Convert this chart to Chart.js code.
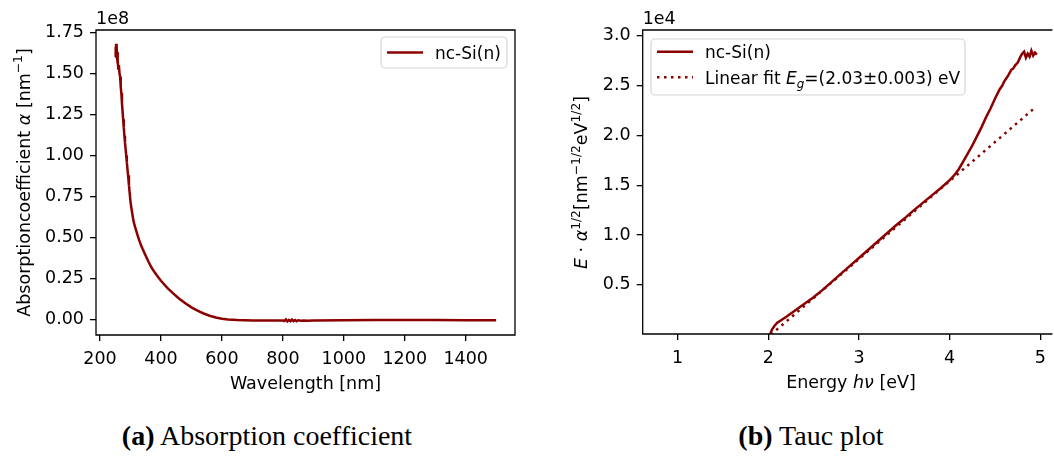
<!DOCTYPE html>
<html>
<head>
<meta charset="utf-8">
<script src="https://cdn.jsdelivr.net/npm/chart.js@4"></script>
<style>
  html, body { margin: 0; padding: 0; background: #fff; width: 1054px; height: 459px; overflow: hidden; }
  #wrapA { position: absolute; left: 0; top: 0; }
  #wrapB { position: absolute; left: 540px; top: 0; }
  .cap { position: absolute; top: 420px; font-family: "Liberation Serif", serif; font-size: 28px;
         white-space: nowrap; transform: translateX(-50%); color: #000; }
</style>
</head>
<body>
<div id="wrapA"><canvas id="absChart" width="530" height="400"></canvas></div>
<div id="wrapB"><canvas id="taucChart" width="514" height="400"></canvas></div>
<div class="cap" style="left:267px"><b>(a)</b> Absorption coefficient</div>
<div class="cap" style="left:811px"><b>(b)</b> Tauc plot</div>

<script>
// absorption spectrum, alpha in units of 1e8 nm^-1
const wavelength = [250, 251, 252, 253, 254, 255, 256, 257, 258, 259, 260, 262, 264, 266, 268, 270,
  272, 274, 276, 278, 280, 282, 284, 286, 288, 290, 292, 295, 298, 300, 303, 306, 310, 315, 320,
  325, 330, 335, 340, 350, 360, 370, 380, 390, 400, 420, 440, 460, 480, 500, 520, 540, 560, 580,
  600, 620, 650, 700, 750, 800, 805, 810, 815, 820, 825, 830, 835, 840, 845, 850, 860, 870, 880,
  900, 1000, 1100, 1200, 1300, 1400, 1500];
const alpha = [1.60, 1.66, 1.62, 1.68, 1.64, 1.67, 1.60, 1.63, 1.56, 1.58, 1.53, 1.55, 1.50, 1.48,
  1.42, 1.38, 1.32, 1.27, 1.22, 1.17, 1.12, 1.08, 1.04, 1.00, 0.96, 0.92, 0.88, 0.82, 0.76, 0.72,
  0.68, 0.645, 0.60, 0.565, 0.535, 0.505, 0.477, 0.452, 0.43, 0.39, 0.35, 0.315, 0.287, 0.261, 0.237,
  0.195, 0.16, 0.128, 0.10, 0.075, 0.055, 0.038, 0.024, 0.014, 0.006, 0.002, -0.002, -0.004,
  -0.005, -0.005, -0.008, 0.002, -0.010, -0.001, -0.009, 0.001, -0.008, -0.002, -0.009, -0.003,
  -0.006, -0.004, -0.006, -0.004, -0.003, -0.002, -0.002, -0.002, -0.003, -0.003];

// Tauc plot, E*alpha^(1/2) in units of 1e4
const energy = [2.02, 2.04, 2.07, 2.10, 2.15, 2.20, 2.30, 2.40, 2.50, 2.60, 2.70, 2.80, 2.90, 3.00,
  3.10, 3.20, 3.30, 3.40, 3.50, 3.60, 3.70, 3.80, 3.90, 4.00, 4.05, 4.10, 4.15, 4.20, 4.25, 4.30,
  4.35, 4.40, 4.45, 4.50, 4.55, 4.58, 4.60, 4.63, 4.65, 4.68, 4.70, 4.72, 4.75, 4.78, 4.80, 4.82,
  4.84, 4.86, 4.88, 4.90, 4.92, 4.94, 4.96];
const tauc = [0.0, 0.05, 0.09, 0.12, 0.15, 0.18, 0.245, 0.31, 0.375, 0.45, 0.53, 0.61, 0.69,
  0.77, 0.85, 0.93, 1.01, 1.09, 1.165, 1.245, 1.32, 1.395, 1.47, 1.55, 1.60, 1.66, 1.74, 1.82, 1.90,
  1.99, 2.08, 2.18, 2.27, 2.37, 2.46, 2.50, 2.54, 2.58, 2.61, 2.66, 2.67, 2.70, 2.73, 2.79, 2.82,
  2.84, 2.78, 2.82, 2.79, 2.85, 2.80, 2.83, 2.81];
const fitEnergy = [2.03, 4.93];
const fitTauc = [0.0, 2.27];

const xTicksA = [200, 400, 600, 800, 1000, 1200, 1400];
const yTicksA = [0, 0.25, 0.5, 0.75, 1.0, 1.25, 1.5, 1.75];
const xTicksB = [1, 2, 3, 4, 5];
const yTicksB = [0.5, 1.0, 1.5, 2.0, 2.5, 3.0];

const RED = '#8b0000';
const FONT = '"DejaVu Sans"';
const FS = 17.5;
const LEG_FS = 17;

Chart.defaults.font.family = FONT;
Chart.defaults.font.size = FS;
Chart.defaults.color = '#000';

function pts(xs, ys) {
  return xs.map((x, i) => ({ x: x, y: ys[i] }));
}

// draws text pieces with italic / superscript / subscript parts
function drawRich(ctx, segs, x, y, align, rotate, size) {
  size = size || FS;
  ctx.save();
  ctx.translate(x, y);
  if (rotate) ctx.rotate(-Math.PI / 2);
  const font = (s, it) => (it ? 'oblique ' : '') + s + 'px ' + FONT;
  const parts = segs.map(([t, st]) => {
    st = st || '';
    const small = st.includes('sup') || st.includes('sub');
    const s = small ? size * 0.7 : size;
    const it = st.includes('i');
    ctx.font = font(s, it);
    return { t, s, it, dy: st.includes('sup') ? -size * 0.42 : (st.includes('sub') ? size * 0.22 : 0), w: ctx.measureText(t).width };
  });
  const total = parts.reduce((a, p) => a + p.w, 0);
  let cx = align === 'center' ? -total / 2 : 0;
  ctx.textBaseline = 'alphabetic';
  ctx.fillStyle = '#000';
  for (const p of parts) {
    ctx.font = font(p.s, p.it);
    ctx.fillText(p.t, cx, p.dy);
    cx += p.w;
  }
  ctx.restore();
}

const decor = {
  id: 'decor',
  afterDraw(chart) {
    const o = chart.options.plugins.decor;
    const ctx = chart.ctx;
    const a = chart.chartArea;
    ctx.save();
    // spines
    ctx.strokeStyle = '#000';
    ctx.lineWidth = 1.3;
    ctx.beginPath();
    if (o.rightSpine) {
      ctx.rect(a.left, a.top, a.right - a.left, a.bottom - a.top);
    } else {
      ctx.moveTo(a.right + 2, a.top);
      ctx.lineTo(a.left, a.top);
      ctx.lineTo(a.left, a.bottom);
      ctx.lineTo(a.right + 2, a.bottom);
    }
    ctx.stroke();

    // legend
    const L = o.legend;
    ctx.beginPath();
    ctx.roundRect(L.x, L.y, L.w, L.h, 4);
    ctx.fillStyle = 'rgba(255,255,255,0.85)';
    ctx.fill();
    ctx.strokeStyle = '#d6d6d6';
    ctx.lineWidth = 1.2;
    ctx.stroke();
    L.rows.forEach((r, i) => {
      const yy = L.y + L.first + i * L.step;
      ctx.beginPath();
      ctx.strokeStyle = RED;
      ctx.lineWidth = 2.5;
      ctx.setLineDash(r.dash || []);
      ctx.moveTo(L.x + 6, yy);
      ctx.lineTo(L.x + 42, yy);
      ctx.stroke();
      ctx.setLineDash([]);
      drawRich(ctx, r.label, L.x + 54, yy + 6.5, 'left', false, LEG_FS);
    });

    // offset text and axis titles
    ctx.font = FS + 'px ' + FONT;
    ctx.fillStyle = '#000';
    ctx.textBaseline = 'alphabetic';
    ctx.fillText(o.offset, a.left, 24);
    drawRich(ctx, o.xTitle, o.xTitlePos[0], o.xTitlePos[1], 'center', false);
    drawRich(ctx, o.yTitle, o.yTitlePos[0], o.yTitlePos[1], 'center', true);
    ctx.restore();
  }
};

function axis(min, max, ticks, fit, horizontal, digits) {
  return {
    type: 'linear',
    min: min,
    max: max,
    afterBuildTicks: s => { s.ticks = ticks.map(v => ({ value: v })); },
    afterFit: s => { if (horizontal) s.height = fit; else s.width = fit; },
    grid: { drawOnChartArea: false, drawTicks: true, tickLength: 6, color: '#000', lineWidth: 1.3 },
    border: { display: false },
    ticks: {
      color: '#000',
      padding: horizontal ? 8 : 6,
      maxRotation: 0,
      autoSkip: false,
      callback: v => digits === null ? String(v) : v.toFixed(digits)
    }
  };
}

new Chart(document.getElementById('absChart'), {
  type: 'scatter',
  data: {
    datasets: [{
      data: pts(wavelength, alpha),
      showLine: true,
      borderColor: RED,
      borderWidth: 2.5,
      pointRadius: 0,
      tension: 0
    }]
  },
  options: {
    responsive: false,
    animation: false,
    layout: { padding: { top: 30, right: 15, left: 0, bottom: 0 } },
    scales: {
      x: axis(186.9, 1561.8, xTicksA, 65, true, null),
      y: axis(-0.093, 1.764, yTicksA, 96, false, 2)
    },
    plugins: {
      legend: { display: false },
      tooltip: { enabled: false },
      decor: {
        rightSpine: true,
        offset: '1e8',
        legend: { x: 381, y: 37, w: 126, h: 31, first: 15.5, step: 0,
          rows: [{ label: [['nc-Si(n)']] }] },
        xTitle: [['Wavelength [nm]']],
        xTitlePos: [305.5, 389],
        yTitle: [['Absorptioncoefficient '], ['α', 'i'], [' [nm'], ['−1', 'sup'], [']']],
        yTitlePos: [29.5, 182.5]
      }
    }
  },
  plugins: [decor]
});

new Chart(document.getElementById('taucChart'), {
  type: 'scatter',
  data: {
    datasets: [{
      data: pts(energy, tauc),
      showLine: true,
      borderColor: RED,
      borderWidth: 2.5,
      pointRadius: 0,
      tension: 0
    }, {
      data: pts(fitEnergy, fitTauc),
      showLine: true,
      borderColor: RED,
      borderWidth: 2.5,
      borderDash: [2.5, 4.5],
      pointRadius: 0,
      tension: 0
    }]
  },
  options: {
    responsive: false,
    animation: false,
    layout: { padding: { top: 30, right: 0, left: 0, bottom: 0 } },
    scales: {
      x: axis(0.617, 5.11, xTicksB, 66, true, null),
      y: axis(0.007, 3.057, yTicksB, 102.7, false, 1)
    },
    plugins: {
      legend: { display: false },
      tooltip: { enabled: false },
      decor: {
        rightSpine: false,
        offset: '1e4',
        legend: { x: 111, y: 39, w: 314, h: 56, first: 12.7, step: 25.6,
          rows: [
            { label: [['nc-Si(n)']] },
            { label: [['Linear fit '], ['E', 'i'], ['g', 'isub'], ['=(2.03±0.003) eV']], dash: [2.5, 4.5] }
          ] },
        xTitle: [['Energy '], ['hν', 'i'], [' [eV]']],
        xTitlePos: [311, 388],
        yTitle: [['E', 'i'], [' · '], ['α', 'i'], ['1/2', 'sup'], ['[nm'], ['−1/2', 'sup'], ['eV'], ['1/2', 'sup'], [']']],
        yTitlePos: [47, 182.5]
      }
    }
  },
  plugins: [decor]
});
</script>
</body>
</html>
